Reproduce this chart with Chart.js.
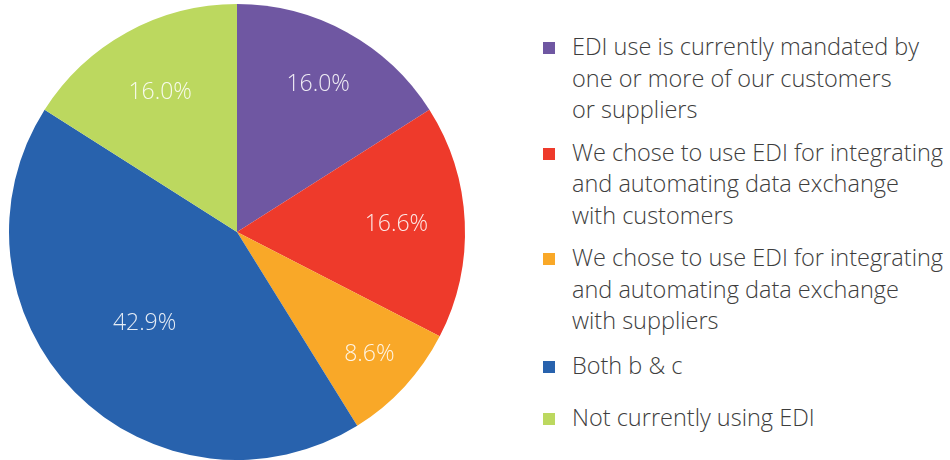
<!DOCTYPE html>
<html>
<head>
<meta charset="utf-8">
<script src="https://cdn.jsdelivr.net/npm/chart.js@4.4.1/dist/chart.umd.min.js"></script>
<style>
  html, body { margin: 0; padding: 0; background: #fff; }
  #wrap { position: relative; width: 950px; height: 460px; overflow: hidden; }
  #pie { position: absolute; left: 0; top: 0; width: 474px; height: 460px; }
  #legend { position: absolute; left: 543px; top: 31px; width: 410px; margin: 0; padding: 0; list-style: none;
            font-family: "Open Sans", sans-serif; font-weight: 300; font-size: 23.5px; line-height: 31.5px; color: #3d3d3d; }
  #legend li { position: relative; padding-left: 29px; margin-bottom: 11px; }
  #legend li:nth-child(3) { margin-bottom: 13px; }
  #legend li:nth-child(4) { margin-bottom: 21px; }
  #legend li span.box { position: absolute; left: 0; top: 11px; width: 12px; height: 12px; }
</style>
</head>
<body>
<div id="wrap">
  <canvas id="pie" width="474" height="460"></canvas>
  <ul id="legend"></ul>
</div>
<script>
const labels = [
  'EDI use is currently mandated by one or more of our customers or suppliers',
  'We chose to use EDI for integrating and automating data exchange with customers',
  'We chose to use EDI for integrating and automating data exchange with suppliers',
  'Both b & c',
  'Not currently using EDI'
];
// legend line breaks as they appear next to the chart
const legendLines = [
  ['EDI use is currently mandated by', 'one or more of our customers', 'or suppliers'],
  ['We chose to use EDI for integrating', 'and automating data exchange', 'with customers'],
  ['We chose to use EDI for integrating', 'and automating data exchange', 'with suppliers'],
  ['Both b & c'],
  ['Not currently using EDI']
];
const values = [16.0, 16.6, 8.6, 42.9, 16.0];
const colors = ['#6f57a2', '#ee3a2b', '#f9a828', '#2862ad', '#bcd85f'];

// how far out from the centre each percentage sits (fraction of radius)
const labelRadius = [0.74, 0.70, 0.79, 0.57, 0.70];

const sliceLabels = {
  id: 'sliceLabels',
  afterDatasetsDraw(chart) {
    const ctx = chart.ctx;
    const meta = chart.getDatasetMeta(0);
    ctx.save();
    ctx.font = '300 23px "Open Sans", sans-serif';
    ctx.fillStyle = 'rgba(255,255,255,0.88)';
    ctx.textAlign = 'center';
    ctx.textBaseline = 'middle';
    meta.data.forEach((arc, i) => {
      const p = arc.getProps(['x', 'y', 'startAngle', 'endAngle', 'outerRadius']);
      const mid = (p.startAngle + p.endAngle) / 2;
      const r = p.outerRadius * labelRadius[i];
      ctx.fillText(values[i].toFixed(1) + '%', p.x + Math.cos(mid) * r, p.y + Math.sin(mid) * r);
    });
    ctx.restore();
  }
};

const chart = new Chart(document.getElementById('pie'), {
  type: 'pie',
  data: {
    labels: labels,
    datasets: [{ data: values, backgroundColor: colors, borderWidth: 0 }]
  },
  options: {
    responsive: false,
    animation: false,
    layout: { padding: { top: 4, bottom: 0 } },
    plugins: { legend: { display: false }, tooltip: { enabled: false } }
  },
  plugins: [sliceLabels]
});

const ul = document.getElementById('legend');
chart.data.labels.forEach((l, i) => {
  const li = document.createElement('li');
  const box = document.createElement('span');
  box.className = 'box';
  box.style.background = chart.data.datasets[0].backgroundColor[i];
  li.appendChild(box);
  li.insertAdjacentHTML('beforeend', legendLines[i].map(s => s.replace(/&/g, '&amp;')).join('<br>'));
  ul.appendChild(li);
});
</script>
</body>
</html>
